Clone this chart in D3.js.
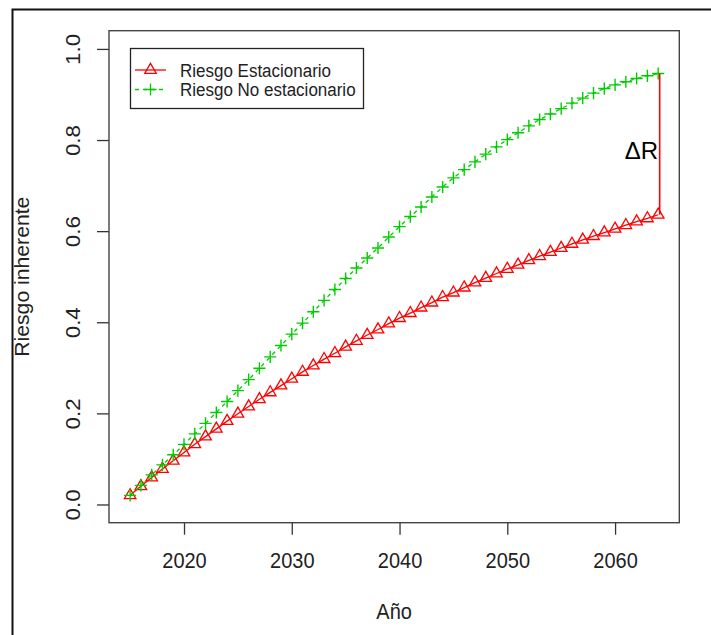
<!DOCTYPE html>
<html>
<head>
<meta charset="utf-8">
<script src="https://cdn.jsdelivr.net/npm/d3@7.9.0/dist/d3.min.js"></script>
<style>
  body { margin: 0; background: #fff; }
  svg text { font-family: "Liberation Sans", Arial, sans-serif; fill: #222; }
</style>
</head>
<body>
<svg id="chart" width="711" height="635"></svg>
<script>
// data
const years = d3.range(2015, 2065);
const riesgoEstacionario = [
  0.020, 0.040, 0.059, 0.078, 0.096, 0.114, 0.132, 0.149, 0.166, 0.183,
  0.199, 0.215, 0.231, 0.246, 0.261, 0.276, 0.291, 0.305, 0.319, 0.332,
  0.346, 0.359, 0.372, 0.384, 0.397, 0.409, 0.420, 0.432, 0.443, 0.455,
  0.465, 0.476, 0.487, 0.497, 0.507, 0.517, 0.526, 0.536, 0.545, 0.554,
  0.563, 0.572, 0.581, 0.589, 0.597, 0.605, 0.613, 0.621, 0.628, 0.636
];
const riesgoNoEstacionario = [
  0.020, 0.042, 0.065, 0.087, 0.109, 0.132, 0.155, 0.178, 0.202, 0.226,
  0.250, 0.274, 0.299, 0.324, 0.349, 0.374, 0.398, 0.423, 0.448, 0.472,
  0.496, 0.519, 0.541, 0.563, 0.587, 0.610, 0.632, 0.653, 0.675, 0.697,
  0.717, 0.735, 0.752, 0.769, 0.785, 0.801, 0.816, 0.831, 0.845, 0.857,
  0.869, 0.881, 0.892, 0.903, 0.913, 0.921, 0.928, 0.935, 0.941, 0.946
];
const xTicks = [2020, 2030, 2040, 2050, 2060];
const yTicks = [0.0, 0.2, 0.4, 0.6, 0.8, 1.0];
const legendLabels = ['Riesgo Estacionario', 'Riesgo No estacionario'];

const RED = '#ff0000';
const GREEN = '#00cd00';
const box = { left: 109, top: 30.7, right: 679.3, bottom: 522.7 };

const svg = d3.select('#chart');

// R pads the ranges by 4%
const x = d3.scaleLinear()
  .domain([2015 - 0.04 * 49, 2064 + 0.04 * 49])
  .range([box.left, box.right]);
const y = d3.scaleLinear()
  .domain([-0.04, 1.04])
  .range([box.bottom, box.top]);

// outer frame of the figure
svg.append('rect')
  .attr('x', 12.5).attr('y', 9.5)
  .attr('width', 800).attr('height', 800)
  .attr('fill', 'none').attr('stroke', '#111').attr('stroke-width', 2);

// x axis
const xAxis = svg.append('g')
  .attr('transform', `translate(0,${box.bottom})`)
  .call(d3.axisBottom(x).tickValues(xTicks).tickSize(12).tickSizeOuter(0).tickFormat(d3.format('d')));
xAxis.select('.domain').remove();
xAxis.selectAll('line').attr('stroke', '#333').attr('stroke-width', 1.3);
xAxis.selectAll('text')
  .attr('fill', '#222').attr('font-size', 20)
  .attr('y', 0).attr('dy', 0)
  .attr('transform', 'translate(0,45) scale(1,1.12)');

// y axis
const yAxis = svg.append('g')
  .attr('transform', `translate(${box.left},0)`)
  .call(d3.axisLeft(y).tickValues(yTicks).tickSize(12).tickSizeOuter(0).tickFormat(d3.format('.1f')));
yAxis.select('.domain').remove();
yAxis.selectAll('line').attr('stroke', '#333').attr('stroke-width', 1.3);
yAxis.selectAll('text')
  .attr('fill', '#222').attr('font-size', 20)
  .attr('x', 0).attr('dy', 0)
  .attr('text-anchor', 'middle')
  .attr('transform', 'translate(-29,0) rotate(-90) scale(1.12,1)');

// plot box
svg.append('rect')
  .attr('x', box.left).attr('y', box.top)
  .attr('width', box.right - box.left).attr('height', box.bottom - box.top)
  .attr('fill', 'none').attr('stroke', '#444').attr('stroke-width', 1.4);

// axis titles
svg.append('text')
  .attr('text-anchor', 'middle').attr('font-size', 20)
  .attr('transform', `translate(${(box.left + box.right) / 2},619) scale(1,1.12)`)
  .text('Año');
svg.append('text')
  .attr('text-anchor', 'middle').attr('font-size', 20)
  .attr('transform', `translate(29,${(box.top + box.bottom) / 2}) rotate(-90) scale(1.06,1)`)
  .text('Riesgo inherente');

// marker shapes like R's pch 2 and pch 3
const triangle = (r) => `M0,${-1.555 * r}L${1.347 * r},${0.778 * r}L${-1.347 * r},${0.778 * r}Z`;
const plus = (r) => `M${-1.414 * r},0H${1.414 * r}M0,${-1.414 * r}V${1.414 * r}`;
const R = 4.3;

const line = d3.line().x((d) => x(d[0])).y((d) => y(d[1]));
const redData = years.map((yr, i) => [yr, riesgoEstacionario[i]]);
const greenData = years.map((yr, i) => [yr, riesgoNoEstacionario[i]]);

svg.append('path')
  .attr('d', line(redData))
  .attr('fill', 'none').attr('stroke', RED).attr('stroke-width', 1.3);
svg.selectAll('.tri')
  .data(redData)
  .join('path')
  .attr('class', 'tri')
  .attr('transform', (d) => `translate(${x(d[0])},${y(d[1])})`)
  .attr('d', triangle(R))
  .attr('fill', 'none').attr('stroke', RED).attr('stroke-width', 1.3);

svg.append('path')
  .attr('d', line(greenData))
  .attr('fill', 'none').attr('stroke', GREEN).attr('stroke-width', 1.3)
  .attr('stroke-dasharray', '4,4');
svg.selectAll('.plus')
  .data(greenData)
  .join('path')
  .attr('class', 'plus')
  .attr('transform', (d) => `translate(${x(d[0])},${y(d[1])})`)
  .attr('d', plus(R))
  .attr('fill', 'none').attr('stroke', GREEN).attr('stroke-width', 1.4);

// delta R segment
const last = years.length - 1;
svg.append('line')
  .attr('x1', x(years[last]) + 1.5).attr('x2', x(years[last]) + 1.5)
  .attr('y1', y(riesgoNoEstacionario[last])).attr('y2', y(riesgoEstacionario[last]))
  .attr('stroke', RED).attr('stroke-width', 1.6);
svg.append('text')
  .attr('x', x(years[last])).attr('y', 159)
  .attr('text-anchor', 'end').attr('font-size', 24)
  .style('fill', '#000')
  .text('ΔR');

// legend
const legend = svg.append('g');
legend.append('rect')
  .attr('x', 130.5).attr('y', 48.5).attr('width', 233).attr('height', 60)
  .attr('fill', '#fff').attr('stroke', '#222').attr('stroke-width', 1.3);
const legendRows = [
  { label: legendLabels[0], color: RED, dash: null, shape: triangle(R) },
  { label: legendLabels[1], color: GREEN, dash: '4,4', shape: plus(R) }
];
legendRows.forEach((row, i) => {
  const cy = 70 + i * 19.5;
  legend.append('line')
    .attr('x1', 135).attr('x2', 166).attr('y1', cy).attr('y2', cy)
    .attr('stroke', row.color).attr('stroke-width', 1.3)
    .attr('stroke-dasharray', row.dash);
  legend.append('path')
    .attr('transform', `translate(150.5,${cy})`)
    .attr('d', row.shape)
    .attr('fill', 'none').attr('stroke', row.color).attr('stroke-width', 1.3);
  legend.append('text')
    .attr('font-size', 17)
    .attr('transform', `translate(180,${cy + 6.5}) scale(1,1.12)`)
    .text(row.label);
});
</script>
</body>
</html>
